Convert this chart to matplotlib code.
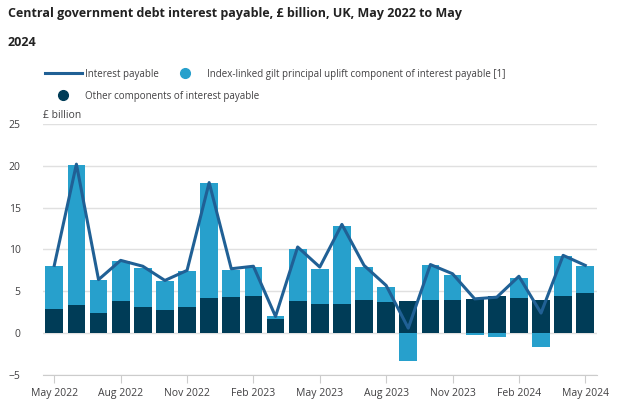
import matplotlib.pyplot as plt
from matplotlib.lines import Line2D

plt.rcParams['font.family'] = ['Open Sans', 'DejaVu Sans']

months = ['May 2022', 'Jun 2022', 'Jul 2022', 'Aug 2022', 'Sep 2022', 'Oct 2022', 'Nov 2022',
          'Dec 2022', 'Jan 2023', 'Feb 2023', 'Mar 2023', 'Apr 2023', 'May 2023', 'Jun 2023',
          'Jul 2023', 'Aug 2023', 'Sep 2023', 'Oct 2023', 'Nov 2023', 'Dec 2023', 'Jan 2024',
          'Feb 2024', 'Mar 2024', 'Apr 2024', 'May 2024']
other = [2.9, 3.4, 2.4, 3.9, 3.1, 2.8, 3.1, 4.2, 4.3, 4.5, 1.7, 3.9, 3.5, 3.5,
         4.0, 3.7, 3.8, 4.0, 4.0, 4.1, 4.4, 4.2, 4.0, 4.5, 4.8]
uplift = [5.1, 16.7, 3.9, 4.7, 4.7, 3.4, 4.3, 13.7, 3.3, 3.4, 0.3, 6.1, 4.2, 9.3,
          3.9, 1.8, -3.3, 4.1, 3.0, -0.2, -0.5, 2.4, -1.7, 4.7, 3.2]
interest = [8.1, 20.2, 6.4, 8.7, 8.0, 6.3, 7.5, 18.0, 7.7, 8.0, 2.0, 10.3, 7.9, 13.0,
            8.1, 5.7, 0.6, 8.2, 7.1, 4.1, 4.3, 6.8, 2.4, 9.3, 8.1]
tick_labels = ['May 2022', 'Aug 2022', 'Nov 2022', 'Feb 2023', 'May 2023', 'Aug 2023',
               'Nov 2023', 'Feb 2024', 'May 2024']

light = '#27a0cc'
dark = '#003c57'
line_col = '#206095'
text_col = '#414042'

fig = plt.figure(figsize=(6.34, 4.17), dpi=100)
ax = fig.add_axes([43 / 634, 1 - 375 / 417, (597 - 43) / 634, (375 - 124) / 417])

x = list(range(len(months)))
ax.bar(x, other, width=0.8, color=dark, zorder=2)
up_bottom = [o if u >= 0 else 0 for o, u in zip(other, uplift)]
ax.bar(x, uplift, width=0.8, bottom=up_bottom, color=light, zorder=2)
ax.plot(x, interest, color=line_col, lw=2.2, zorder=3)

ax.set_ylim(-5, 25)
ax.set_xlim(-0.51, 24.53)
ax.set_yticks([-5, 0, 5, 10, 15, 20, 25])
ax.grid(axis='y', color='#e0e0e0', lw=1, zorder=0)
for s in ['top', 'right', 'left']:
    ax.spines[s].set_visible(False)
ax.spines['bottom'].set_color('#cccccc')
ax.set_xticks([months.index(t) for t in tick_labels])
ax.set_xticklabels(tick_labels)
ax.tick_params(axis='x', colors='#cccccc', labelcolor=text_col, labelsize=7.5, length=6)
ax.tick_params(axis='y', length=0, labelcolor=text_col, labelsize=7.5, pad=16)

ax.text(0, 1.012, '£ billion', transform=ax.transAxes, fontsize=7.5, color=text_col,
        va='bottom', ha='left')

fig.text(8 / 634, 1 - 14 / 417, 'Central government debt interest payable, £ billion, UK, May 2022 to May',
         fontsize=9, fontweight='bold', color='#222222', va='center')
fig.text(8 / 634, 1 - 42 / 417, '2024', fontsize=9, fontweight='bold', color='#222222', va='center')

# legend entries placed one by one to copy the spacing of the original
entries = [
    (Line2D([], [], color=line_col, lw=2.2), 'Interest payable', 36, 74),
    (Line2D([], [], marker='o', ls='none', color=light, markersize=7),
     'Index-linked gilt principal uplift component of interest payable [1]', 158, 74),
    (Line2D([], [], marker='o', ls='none', color=dark, markersize=7),
     'Other components of interest payable', 36, 96),
]
for h, lab, lx, ly in entries:
    fig.legend([h], [lab], loc='center left', bbox_to_anchor=(lx / 634, 1 - ly / 417),
               frameon=False, fontsize=7, handlelength=3.8, handletextpad=0.3,
               labelcolor=text_col)

fig.savefig('out.png', dpi=100)
